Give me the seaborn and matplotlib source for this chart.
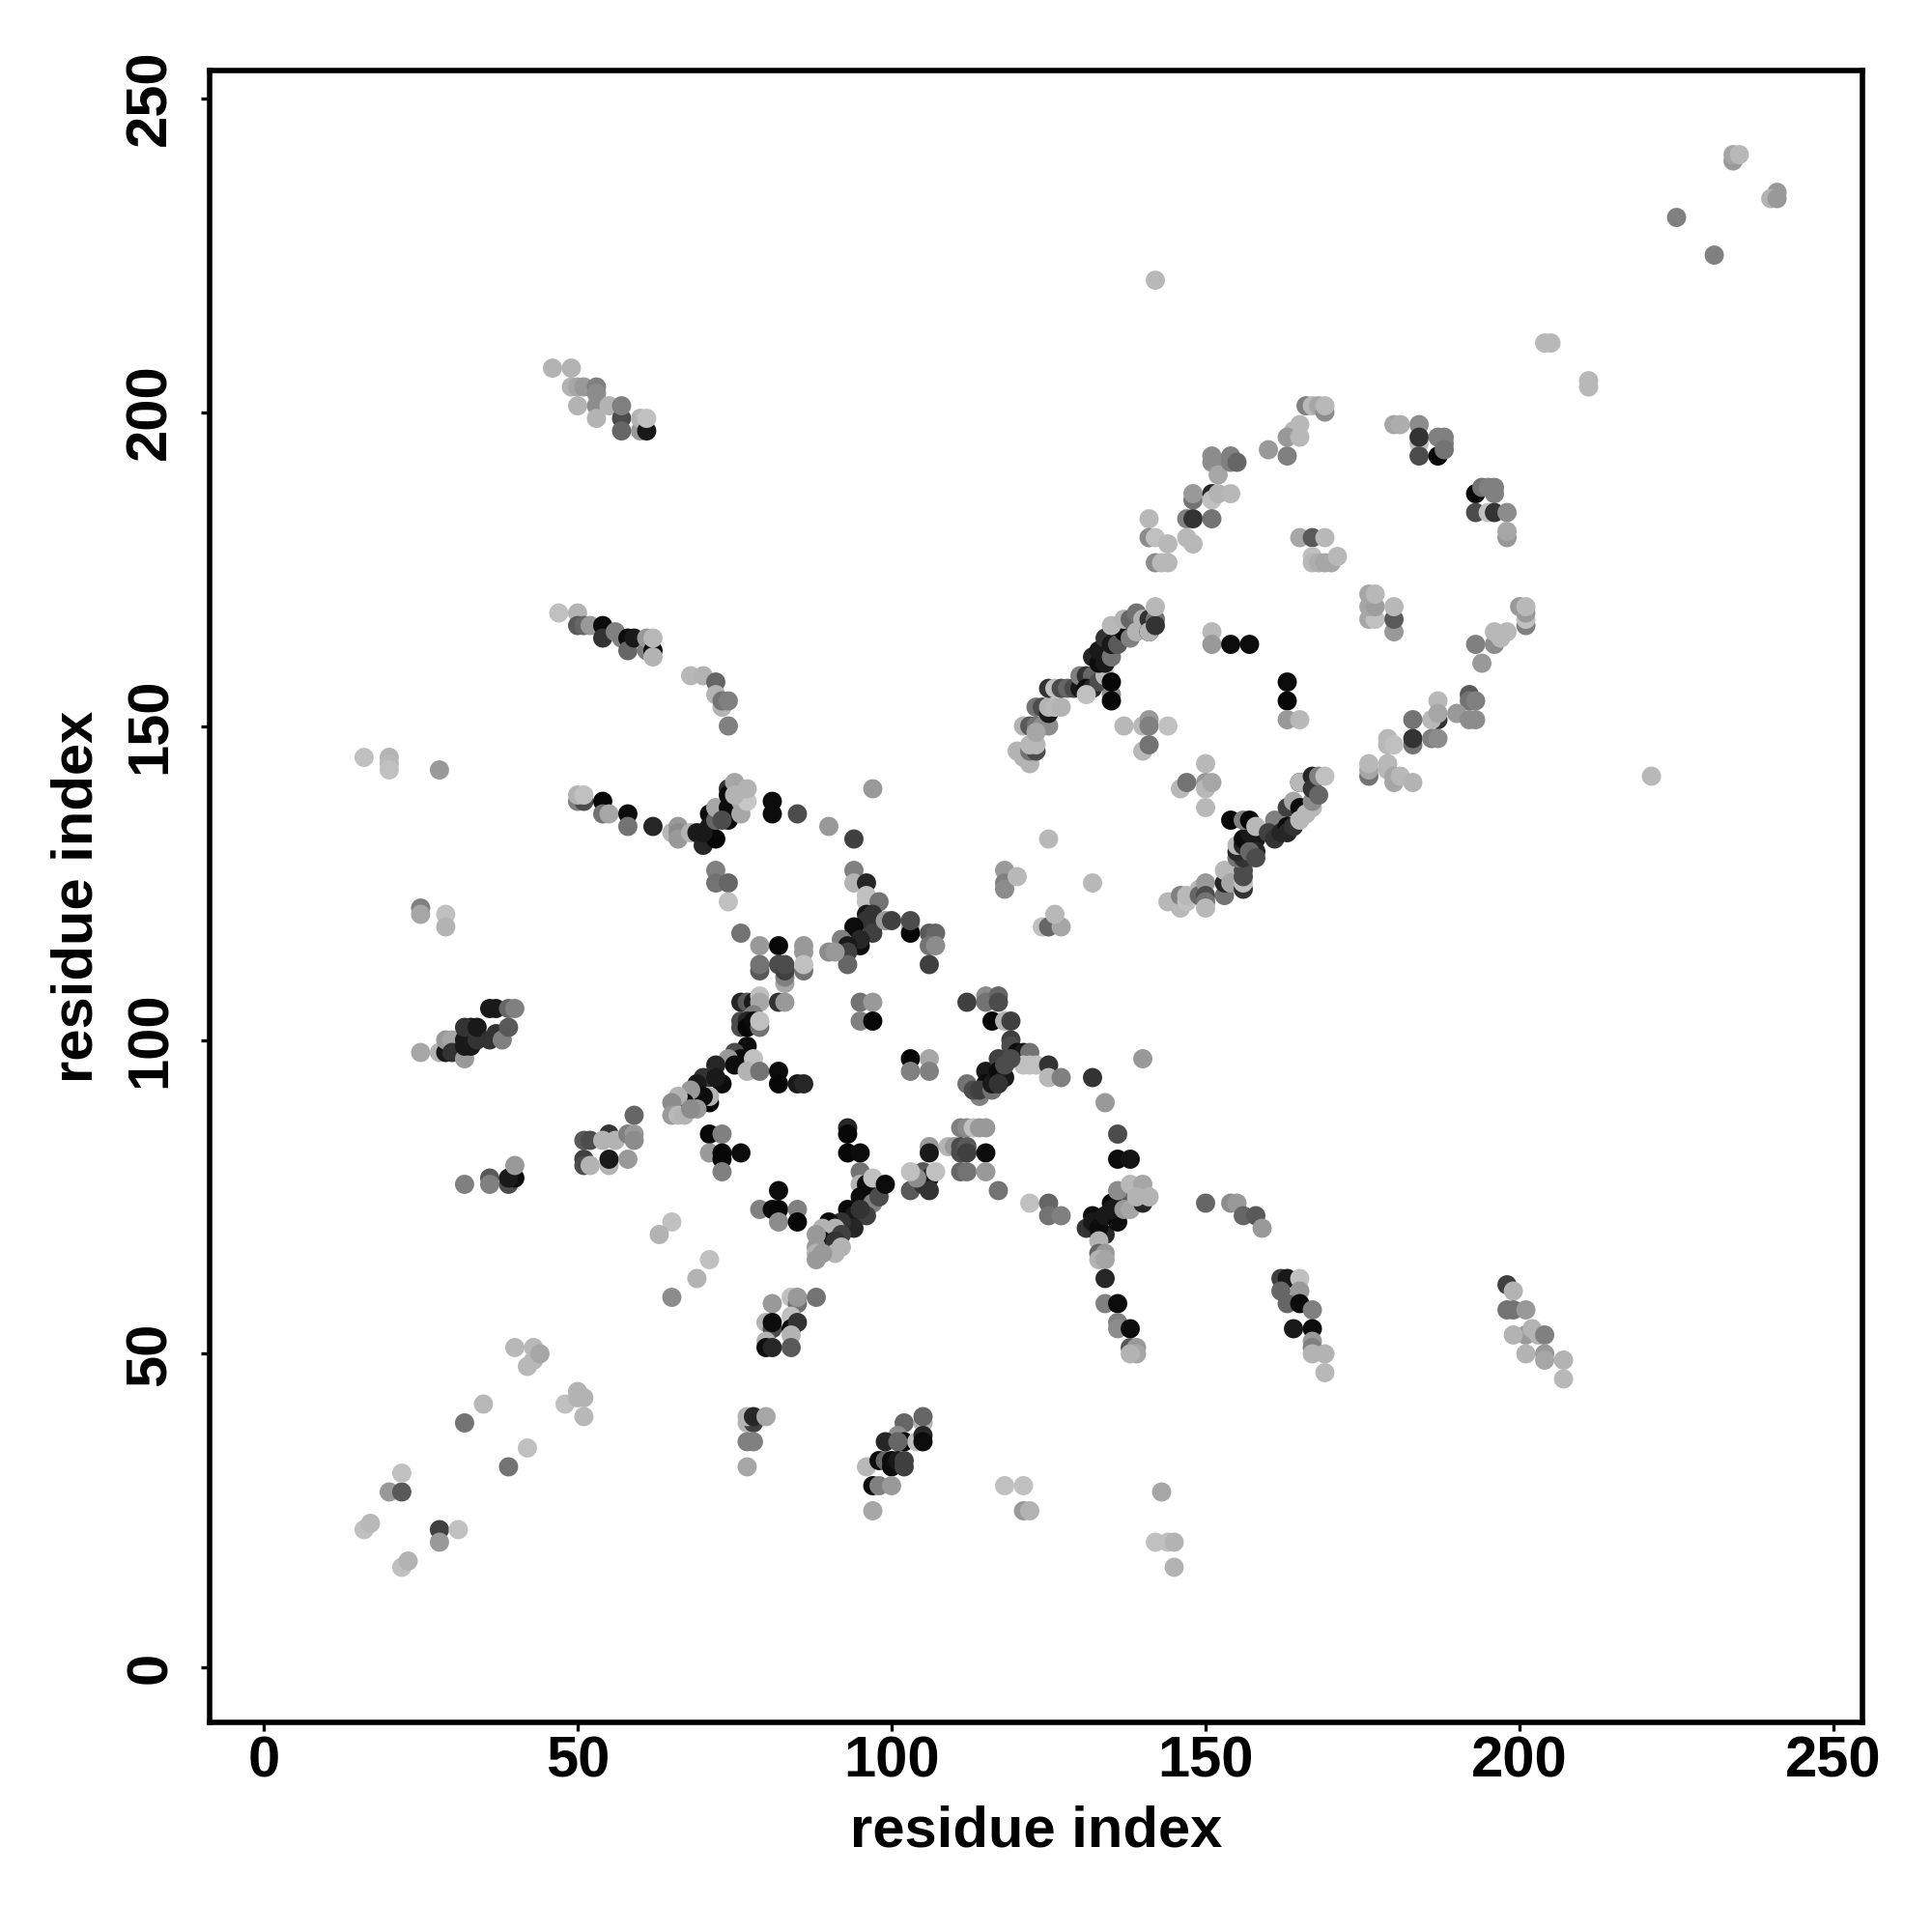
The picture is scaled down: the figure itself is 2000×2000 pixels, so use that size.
import pandas as pd
import matplotlib
matplotlib.use("Agg")
import matplotlib.pyplot as plt
import seaborn as sns

# contacts as (residue x, residue y, grey level), listed in drawing order
lower_left = [
    (16,22,.75),(17,23,.72),(20,28,.6),(22,28,.35),(22,31,.75),(22,16,.75),(23,17,.7),
    (28,22,.25),(28,20,.6),(31,22,.75),(32,39,.45),(35,42,.72),(39,32,.45),(42,35,.75),
    (40,51,.72),(42,48,.72),(43,49,.72),(43,51,.72),(44,50,.65),(48,42,.75),(50,43,.7),
    (50,44,.7),(51,43,.7),(51,40,.72),(65,71,.75),(63,69,.7),(71,65,.75),(69,62,.7),(65,59,.55),
]
far_left = [
    (16,145,.75),(20,145,.7),(20,144,.72),(20,143,.75),(28,143,.6),(25,121,.5),(25,120,.65),
    (29,120,.75),(29,118,.7),
]
left_strand = [
    (25,98,.65),(28,98,.7),(29,98,.1),(29,100,.6),(30,100,.65),(30,98,.2),(32,97,.6),(32,99,.1),
    (32,100,.1),(33,102,.1),(32,102,.2),(33,99,.1),(34,100,.2),(34,102,.1),(36,100,.2),(36,105,.1),
    (37,105,.1),(37,101,.2),(38,100,.5),(39,102,.35),(39,105,.4),(40,105,.5),
    (32,77,.5),(36,78,.35),(36,77,.5),(39,77,.3),(40,78,.05),(39,78,.1),(40,80,.6),
]
top_left = [
    (46,207,.7),(49,207,.7),(49,204,.7),(50,204,.65),(50,201,.7),(51,204,.6),(53,204,.5),(53,203,.55),
    (53,201,.55),(53,199,.7),(55,201,.7),(57,199,.3),(57,197,.4),(57,201,.5),(60,197,.6),(60,199,.7),
    (61,197,.1),(61,199,.75),
    (47,168,.75),(50,168,.7),(50,166,.35),(51,166,.4),(52,166,.6),(54,166,.05),(54,164,.2),(56,165,.5),
    (57,164,.5),(58,164,.05),(58,162,.4),(59,164,.1),(61,162,.5),(61,164,.6),(62,162,.05),(62,161,.7),(62,164,.72),
    (68,158,.72),(70,158,.7),(72,157,.4),(72,155,.7),(73,153,.7),(73,154,.45),(74,154,.5),(74,150,.5),
]
row_138 = [
    (50,138,.5),(51,138,.3),(50,139,.7),(51,139,.75),(54,138,.03),(54,136,.45),(55,136,.65),
    (58,136,.05),(58,134,.45),(62,134,.15),(65,133,.72),(66,134,.6),(66,133,.55),(66,132,.6),(68,133,.7),
    (69,133,.1),(70,131,.15),(71,136,.05),(71,134,.1),(72,132,.03),(70,133,.1),(72,135,.4),(72,137,.65),
    (74,140,.2),(74,137,.05),(74,135,.05),(73,135,.3),(74,139,.05),(75,141,.65),(76,136,.65),(76,138,.65),
    (77,138,.78),(77,140,.7),(75,139,.7),
    (81,138,.05),(81,136,.05),(85,136,.3),(90,134,.6),(94,132,.25),(97,140,.6),
    (72,127,.5),(72,125,.45),(74,125,.4),(74,122,.75),(94,127,.5),(94,125,.7),(96,125,.15),
]
middle_top = [
    (96,122,.75),(96,123,.75),(98,122,.45),(96,120,.1),(97,120,.2),(96,119,.2),(97,118,.2),(97,117,.25),
    (95,115,.05),(94,118,.05),(95,116,.15),(92,116,.5),(93,115,.1),(93,114,.25),(93,112,.4),(90,114,.55),
    (91,114,.6),(99,119,.6),(100,119,.25),(103,118,.7),(103,117,.03),(103,119,.3),
    (106,117,.35),(107,117,.4),(106,115,.45),(107,115,.55),(106,112,.25),
    (76,117,.45),(79,115,.6),(82,115,.03),(86,115,.6),(86,114,.6),(79,111,.35),(79,112,.45),(82,112,.3),
    (83,109,.65),(83,110,.5),(83,111,.25),(83,112,.3),(86,111,.45),(86,112,.75),
    (95,106,.45),(97,106,.6),(95,103,.5),(97,103,.03),(103,97,.03),(103,95,.5),(106,97,.65),(106,95,.5),
]
main_diagonal = [
    (76,106,.15),(77,106,.35),(78,106,.1),(79,107,.75),(79,106,.65),(82,106,.2),(83,106,.6),
    (78,104,.5),(76,102,.3),(76,103,.3),(77,103,.15),(77,102,.03),(78,103,.05),(79,102,.45),(79,103,.75),
    (77,99,.05),(75,98,.3),(76,97,.05),(74,97,.6),(75,96,.05),(78,97,.75),(77,95,.7),(79,95,.45),
    (82,95,.05),(82,93,.03),(85,93,.1),(86,93,.15),
    (72,96,.15),(73,93,.05),(71,94,.2),(70,94,.2),(72,94,.1),(71,90,.03),(71,91,.7),(69,93,.1),(70,91,.05),
    (68,92,.6),(67,90,.05),(68,89,.2),(69,89,.6),(66,91,.7),(65,90,.55),(65,88,.6),(66,88,.72),(67,88,.7),(68,89,.55),
    (59,88,.4),(71,85,.03),(73,85,.5),(93,86,.15),(93,85,.03),
    (51,84,.35),(52,84,.3),(51,81,.25),(51,80,.3),(52,80,.7),(55,85,.2),(54,84,.7),(56,84,.7),(55,80,.7),(55,81,.1),
    (58,85,.5),(59,85,.6),(59,84,.55),(58,81,.6),
]
lower_middle = [
    (71,82,.6),(73,82,.03),(73,81,.03),(76,82,.05),(73,79,.5),(93,82,.03),(95,82,.05),
    (95,79,.45),(95,77,.7),(96,77,.05),(96,76,.05),(95,75,.05),(97,74,.5),(98,75,.3),(97,78,.75),(99,77,.05),
    (93,73,.03),(94,72,.1),(96,72,.25),(94,70,.15),(95,73,.2),(92,71,.2),(90,71,.05),(91,70,.7),(92,69,.25),
    (89,70,.7),(89,68,.05),(91,68,.2),(92,67,.7),(91,66,.7),(88,69,.6),(88,67,.6),(88,66,.7),(89,66,.6),(88,65,.6),
    (82,76,.05),(79,73,.5),(81,73,.05),(82,73,.03),(85,73,.5),(82,71,.55),(85,71,.03),
    (81,58,.6),(84,59,.75),(85,58,.45),(85,59,.6),(88,59,.45),(80,55,.7),(81,54,.3),(81,55,.05),
    (84,56,.75),(84,54,.03),(85,55,.2),(84,53,.7),(80,52,.7),(80,51,.05),(81,51,.15),(84,51,.35),
    (77,39,.7),(78,39,.25),(77,40,.7),(78,40,.15),(80,40,.65),(77,36,.5),(78,36,.5),(77,32,.65),
    (102,39,.4),(105,39,.7),(105,40,.4),(101,37,.55),(99,36,.15),(102,36,.03),(104,36,.75),(105,37,.15),(105,36,.05),(101,36,.4),
    (96,32,.72),(98,33,.05),(99,33,.4),(100,33,.05),(100,32,.05),(101,33,.1),(102,33,.25),(102,32,.25),
    (97,29,.05),(98,29,.5),(100,29,.6),(97,25,.65),
]
centre_right = [
    (112,106,.25),(115,107,.55),(115,106,.45),(117,107,.4),(117,106,.3),(116,103,.03),(118,103,.7),(119,103,.25),
    (119,100,.25),(119,99,.3),(120,98,.05),(121,98,.1),(122,98,.45),(121,96,.75),(122,96,.75),(123,96,.75),
    (125,96,.2),(125,94,.72),(127,94,.5),(132,94,.2),(134,90,.6),(136,85,.3),(136,81,.05),(138,81,.08),(140,97,.6),
    (112,93,.45),(114,91,.5),(113,92,.3),(115,95,.1),(115,93,.05),(114,92,.25),(116,92,.45),(116,93,.1),
    (117,97,.25),(117,95,.05),(118,94,.1),(118,96,.3),(117,93,.2),(119,97,.3),
    (111,86,.5),(112,86,.55),(113,86,.75),(114,86,.6),(115,86,.6),(109,83,.7),(110,83,.6),(111,83,.3),(111,82,.3),
    (112,83,.35),(112,82,.25),(115,82,.05),(111,79,.4),(112,79,.45),(115,79,.6),(117,76,.45),
    (106,83,.6),(106,82,.1),(103,76,.35),(105,79,.35),(105,77,.2),(106,78,.1),(106,76,.2),(104,78,.55),(103,79,.75),(107,79,.75),
    (122,74,.75),(125,74,.4),(125,72,.45),(127,72,.5),
]
lower_right = [
    (132,72,.05),(131,70,.2),(132,71,.1),(133,69,.15),(134,69,.15),(133,70,.05),(134,72,.1),(136,71,.05),(135,74,.05),
    (135,73,.1),(137,75,.1),(138,75,.35),(136,76,.55),(137,73,.6),(138,73,.65),(138,77,.72),(140,74,.15),(140,77,.65),(139,75,.7),(141,75,.7),
    (133,68,.7),(133,66,.4),(134,66,.6),(133,65,.7),(134,65,.65),(134,62,.15),(134,58,.5),(136,58,.05),(136,55,.5),(136,54,.55),
    (138,54,.05),(138,51,.35),(139,51,.6),(139,50,.65),(138,50,.7),
    (162,62,.25),(163,62,.1),(165,62,.75),(162,60,.4),(165,60,.6),(163,58,.4),(165,58,.05),(164,54,.1),(167,57,.5),(167,54,.05),
    (167,52,.6),(167,51,.5),(167,50,.7),(169,50,.7),(169,47,.72),
    (150,74,.4),(154,74,.55),(155,74,.6),(156,72,.4),(158,72,.35),(159,70,.6),
    (198,61,.25),(199,60,.7),(198,57,.45),(199,57,.45),(201,57,.6),(201,53,.6),(199,53,.7),(202,54,.7),(203,53,.7),(204,53,.5),
    (201,50,.7),(204,50,.6),(204,49,.65),(207,49,.7),(207,46,.72),
    (118,29,.75),(121,29,.75),(121,25,.6),(122,25,.7),(143,28,.65),(142,20,.75),(144,20,.75),(145,20,.7),(145,16,.7),
]
upper_strand = [
    (118,127,.6),(118,125,.5),(118,124,.55),(120,126,.72),(124,118,.75),(125,118,.4),(127,118,.65),(126,120,.72),(125,132,.72),(132,125,.72),
    (120,146,.7),(121,145,.7),(122,144,.7),(122,146,.45),(123,146,.3),(122,147,.72),(123,147,.72),(121,150,.7),(122,150,.35),(123,150,.45),(124,150,.55),(125,150,.55),(123,149,.65),
    (123,153,.45),(124,153,.3),(125,152,.1),(125,153,.7),(126,153,.72),(127,153,.7),
    (125,156,.2),(126,156,.75),(127,156,.3),(128,156,.4),(129,156,.3),(130,156,.1),(130,158,.5),(131,158,.2),(132,158,.4),(131,156,.05),(132,156,.15),
    (133,157,.3),(134,158,.72),(135,155,.55),(135,154,.03),(135,157,.03),(131,155,.75),
    (132,161,.15),(133,160,.05),(133,162,.1),(134,160,.1),(134,164,.2),(135,161,.45),(135,163,.1),(136,164,.1),(136,163,.35),(137,165,.05),(135,166,.72),
    (137,167,.7),(138,167,.4),(138,164,.5),(139,165,.7),(139,168,.45),(140,167,.7),(141,165,.05),(141,167,.2),(141,165,.7),(142,167,.45),(142,166,.2),(142,169,.72),
]
inner_right = [
    (137,150,.72),(140,150,.72),(141,151,.6),(141,150,.5),(144,150,.75),(140,146,.72),(141,147,.45),
    (151,165,.72),(151,163,.6),(154,163,.05),(157,163,.05),(163,157,.05),(163,154,.03),(163,151,.6),(165,151,.72),
    (150,144,.72),(146,140,.72),(147,141,.45),(150,141,.6),(150,140,.72),(151,141,.65),(150,137,.72),
]
lower_strand = [
    (144,122,.72),(145,122,.72),(146,121,.72),(146,123,.5),(147,122,.75),(147,123,.72),(149,124,.72),(149,123,.4),
    (150,125,.6),(150,123,.3),(150,122,.45),(150,121,.72),(153,123,.45),(153,125,.15),(153,127,.72),(154,125,.65),
    (156,124,.2),(156,125,.75),(156,127,.3),(156,126,.3),(155,129,.45),(156,129,.2),(155,130,.15),(155,131,.72),(156,131,.15),
    (156,132,.05),(157,131,.05),(158,132,.1),(158,130,.15),(157,130,.4),(158,129,.3),(157,133,.1),(154,135,.03),(156,135,.5),(157,135,.03),(158,134,.72),
    (161,135,.5),(160,133,.25),(161,132,.2),(162,133,.15),(163,137,.25),(163,134,.05),(163,133,.15),(164,134,.2),(164,138,.65),
    (165,137,.05),(166,137,.05),(165,135,.72),(166,136,.72),(167,137,.72),(167,138,.55),(165,141,.05),(165,141,.72),(167,142,.15),(167,140,.2),(168,142,.5),(169,142,.75),(168,139,.4),
]
upper_right = [
    (166,201,.5),(167,201,.72),(168,201,.65),(169,200,.55),(169,201,.72),(165,198,.72),(164,197,.72),(163,196,.6),(165,196,.72),(160,194,.6),(163,193,.5),
    (180,198,.65),(181,198,.68),(184,198,.55),(184,195,.75),(184,196,.2),(184,193,.3),(187,193,.03),(187,196,.5),(188,196,.5),(188,195,.5),(188,194,.45),
    (151,193,.55),(151,192,.55),(152,192,.55),(152,190,.65),(154,193,.5),(154,192,.5),(155,192,.4),
    (148,186,.45),(148,187,.6),(151,187,.15),(151,186,.75),(152,187,.7),(154,187,.72),(147,183,.5),(148,183,.2),(151,183,.45),
    (141,183,.72),(141,180,.55),(142,180,.75),(144,179,.72),(147,180,.72),(148,179,.72),(142,176,.55),(143,176,.72),(144,176,.72),
    (165,180,.65),(167,180,.35),(169,180,.72),(167,177,.75),(167,176,.72),(168,176,.68),(169,176,.65),(170,176,.65),(171,177,.72),
    (193,187,.03),(194,188,.45),(195,188,.5),(196,187,.5),(196,188,.5),(193,184,.3),(195,184,.75),(196,184,.2),(198,184,.55),(198,180,.6),(198,181,.65),
    (176,167,.65),(177,167,.75),(176,169,.65),(177,169,.62),(176,171,.65),(177,171,.72),(180,165,.6),(180,167,.35),(180,169,.72),
    (200,169,.6),(201,166,.5),(201,167,.75),(201,168,.6),(201,169,.72),
    (193,163,.5),(196,163,.55),(196,165,.72),(197,164,.72),(198,165,.72),(194,160,.6),
    (192,155,.35),(192,154,.45),(193,154,.5),(190,152,.6),(192,151,.55),(193,151,.55),(187,154,.72),(187,151,.2),(186,151,.72),(187,152,.65),
    (183,151,.45),(183,147,.45),(183,148,.2),(186,148,.5),(187,148,.55),(179,148,.72),(179,147,.72),(180,147,.75),
    (176,142,.45),(176,143,.65),(176,144,.72),(179,144,.72),(179,143,.72),(180,142,.65),(180,141,.65),(181,142,.72),(183,141,.7),
]
far_right = [
    (142,221,.72),(225,231,.5),(231,225,.5),(234,240,.6),(234,241,.65),(235,241,.72),(241,235,.6),(240,234,.7),(241,234,.6),
    (204,211,.72),(205,211,.72),(211,205,.72),(211,204,.72),(221,142,.72),
]

groups = [lower_left, far_left, left_strand, top_left, row_138, middle_top, main_diagonal, lower_middle,
          centre_right, lower_right, upper_strand, inner_right, lower_strand, upper_right, far_right]
contacts = pd.DataFrame([c for g in groups for c in g], columns=["x", "y", "grey"])

tick_values = [0, 50, 100, 150, 200, 250]

sns.set_style("white")
plt.rcParams["font.family"] = ["Liberation Sans", "DejaVu Sans"]
plt.rcParams["font.weight"] = "bold"

fig = plt.figure(figsize=(20, 20), dpi=100)
ax = fig.add_axes([217 / 2000, 1 - 1783 / 2000, (1928 - 217) / 2000, (1783 - 73) / 2000])

sns.scatterplot(data=contacts, x="x", y="y", hue="grey", palette="gray", hue_norm=(0, 1),
                s=205, linewidth=0, legend=False, ax=ax)

ax.set_xlim(-8.6, 254.6)
ax.set_ylim(-8.7, 254.4)
ax.set_xticks(tick_values)
ax.set_yticks(tick_values)
ax.tick_params(axis="both", length=6.5, width=2.4, color="black", labelcolor="black", labelsize=43, left=True, bottom=True)
ax.tick_params(axis="x", pad=3)
ax.tick_params(axis="y", pad=17.5)
for lab in ax.get_yticklabels():
    lab.set_rotation(90)
    lab.set_va("center")
ax.set_xlabel("residue index", fontsize=43, fontweight="bold", color="black", labelpad=12.5)
ax.set_ylabel("residue index", fontsize=43, fontweight="bold", color="black", labelpad=15)
for sp in ax.spines.values():
    sp.set_visible(True)
    sp.set_color("black")
    sp.set_linewidth(4)

fig.savefig("out.png", dpi=100, facecolor="white")
